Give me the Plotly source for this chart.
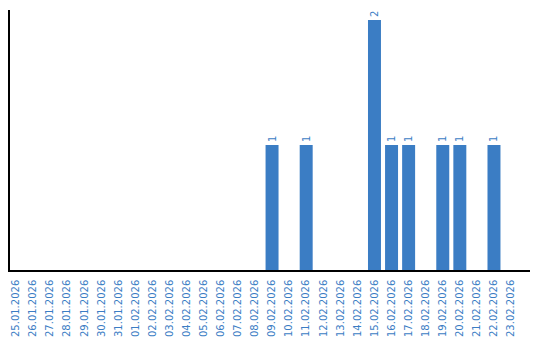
import plotly.graph_objects as go

dates = ["25.01.2026","26.01.2026","27.01.2026","28.01.2026","29.01.2026","30.01.2026","31.01.2026",
         "01.02.2026","02.02.2026","03.02.2026","04.02.2026","05.02.2026","06.02.2026","07.02.2026",
         "08.02.2026","09.02.2026","10.02.2026","11.02.2026","12.02.2026","13.02.2026","14.02.2026",
         "15.02.2026","16.02.2026","17.02.2026","18.02.2026","19.02.2026","20.02.2026","21.02.2026",
         "22.02.2026","23.02.2026"]
counts = [0,0,0,0,0,0,0,0,0,0,0,0,0,0,0,1,0,1,0,0,0,2,1,1,0,1,1,0,1,0]

blue = "#3b7dc4"
texts = [str(v) if v else "" for v in counts]

fig = go.Figure(go.Bar(
    x=list(range(len(dates))), y=counts, marker_color=blue, marker_line_width=0,
    text=texts, textposition="outside", textangle=-90, cliponaxis=False,
    textfont=dict(family="DejaVu Sans", size=10, color=blue),
))
fig.update_layout(
    width=540, height=340, margin=dict(l=10, r=10, t=10, b=70),
    paper_bgcolor="white", plot_bgcolor="white", bargap=0.24, showlegend=False,
    font=dict(family="DejaVu Sans", size=10, color=blue),
)
fig.update_xaxes(range=[-0.35, 30.11], tickmode="array", tickvals=list(range(len(dates))),
                 ticktext=dates, tickangle=-90, showline=True, linecolor="black", linewidth=1.5,
                 showgrid=False, zeroline=False, ticks="", ticklabelstandoff=4, automargin=False,
                 tickfont=dict(family="DejaVu Sans", color=blue, size=10))
fig.update_yaxes(range=[0, 2.08], showline=True, linecolor="black", linewidth=1.5,
                 showgrid=False, zeroline=False, showticklabels=False, ticks="", automargin=False)
fig.write_html("out.html")
